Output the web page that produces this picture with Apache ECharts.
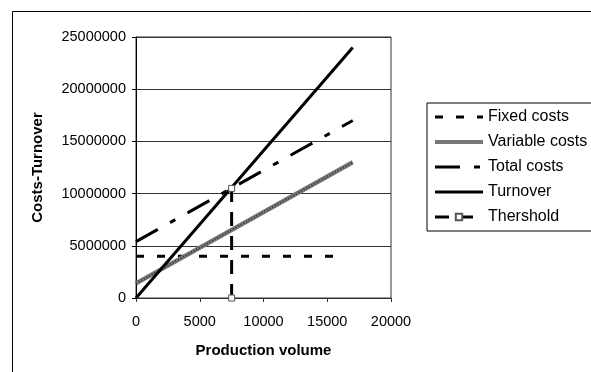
<!DOCTYPE html>
<html lang="en">
<head>
    <meta charset="UTF-8">
    <title>Break-even</title>
    <script src="https://cdn.jsdelivr.net/npm/echarts@6/dist/echarts.min.js"></script>
    <style>
        html, body { margin: 0; padding: 0; background: #fff; }
        #chart { width: 591px; height: 372px; }
    </style>
</head>
<body>
<div id="chart"></div>
<script>
    // data
    var volume = [0, 17000];
    var fixedVolume = [0, 16000];
    var fixedCosts = [4000000, 4000000];
    var variableCosts = [1400000, 13000000];
    var totalCosts = [5400000, 17000000];
    var turnover = [0, 24000000];
    var thresholdVolume = [7500, 7500];
    var thresholdValue = [0, 10500000];

    var xTicks = [0, 20000, 5000];        // min, max, interval
    var yTicks = [0, 25000000, 5000000];

    function pairs(xs, ys) {
        return xs.map(function (x, i) { return [x, ys[i]]; });
    }
    function plain(v) { return String(v); }

    var font = 'Liberation Sans, Arial, sans-serif';
    var noMark = { opacity: 0 };   // hide the legend dot on plain lines
    var chart = echarts.init(document.getElementById('chart'));

    var option = {
        animation: false,
        textStyle: { fontFamily: font, color: '#000' },
        graphic: [{
            type: 'rect',
            shape: { x: 12.5, y: 11.5, width: 620, height: 420 },
            style: { fill: 'none', stroke: '#000', lineWidth: 1 },
            silent: true
        }],
        grid: {
            left: 136, top: 37, right: 200, bottom: 74,
            show: true, borderColor: '#333', borderWidth: 1
        },
        legend: {
            orient: 'vertical',
            left: 427, top: 103,
            padding: [6, 5, 6, 6],
            itemGap: 9,
            itemWidth: 48,
            itemHeight: 8,
            borderColor: '#000',
            borderWidth: 1,
            textStyle: { fontSize: 16, fontFamily: font, color: '#000' },
            data: [
                { name: 'Fixed costs', itemStyle: noMark, lineStyle: { width: 3 } },
                { name: 'Variable costs', itemStyle: noMark, lineStyle: { width: 4 } },
                { name: 'Total costs', itemStyle: noMark, lineStyle: { width: 3 } },
                { name: 'Turnover', itemStyle: noMark, lineStyle: { width: 3 } },
                { name: 'Thershold', lineStyle: { width: 3 } }
            ]
        },
        xAxis: {
            type: 'value',
            min: xTicks[0], max: xTicks[1], interval: xTicks[2],
            name: 'Production volume',
            nameLocation: 'middle',
            nameGap: 45,
            nameTextStyle: { fontWeight: 'bold', fontSize: 15, color: '#000' },
            axisLine: { lineStyle: { color: '#333' } },
            axisTick: { show: true, length: 4, lineStyle: { color: '#333' } },
            axisLabel: { fontSize: 14.5, margin: 16, color: '#000', formatter: plain },
            splitLine: { show: false }
        },
        yAxis: {
            type: 'value',
            min: yTicks[0], max: yTicks[1], interval: yTicks[2],
            name: 'Costs-Turnover',
            nameLocation: 'middle',
            nameGap: 91,
            nameTextStyle: { fontWeight: 'bold', fontSize: 15, color: '#000' },
            axisLine: { show: true, lineStyle: { color: '#000' } },
            axisTick: { show: true, length: 4, lineStyle: { color: '#000' } },
            axisLabel: { fontSize: 14.5, margin: 10, color: '#000', formatter: plain },
            splitLine: { show: true, lineStyle: { color: '#333', width: 1 } }
        },
        series: [
            {
                name: 'Fixed costs',
                type: 'line',
                symbol: 'none',
                data: pairs(fixedVolume, fixedCosts),
                lineStyle: { color: '#000', width: 3, type: [8, 13] },
                itemStyle: { color: '#000' }
            },
            {
                name: 'Variable costs',
                type: 'line',
                symbol: 'none',
                data: pairs(volume, variableCosts),
                lineStyle: { color: '#777', width: 4.5 },
                itemStyle: { color: '#777' }
            },
            {
                // darker speckle on top of the grey band
                name: 'Variable texture',
                type: 'line',
                symbol: 'none',
                silent: true,
                data: pairs(volume, variableCosts),
                lineStyle: { color: '#333', width: 2, type: [1, 2] }
            },
            {
                name: 'Total costs',
                type: 'line',
                symbol: 'none',
                data: pairs(volume, totalCosts),
                lineStyle: { color: '#000', width: 3, type: [25, 14, 6, 14] },
                itemStyle: { color: '#000' }
            },
            {
                name: 'Turnover',
                type: 'line',
                symbol: 'none',
                data: pairs(volume, turnover),
                lineStyle: { color: '#000', width: 3 },
                itemStyle: { color: '#000' }
            },
            {
                name: 'Thershold',
                type: 'line',
                symbol: 'rect',
                symbolSize: 6,
                data: pairs(thresholdVolume, thresholdValue),
                lineStyle: { color: '#000', width: 3, type: [14, 10] },
                itemStyle: { color: '#fff', borderColor: '#555', borderWidth: 1 }
            }
        ]
    };
    chart.setOption(option);
</script>
</body>
</html>
